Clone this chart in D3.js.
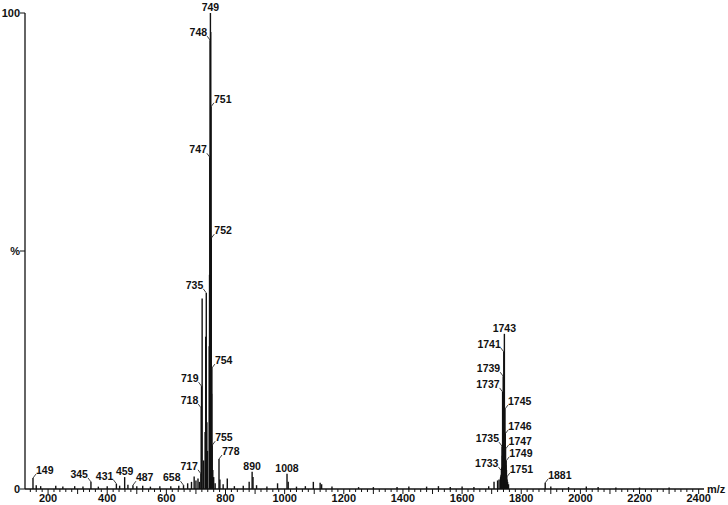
<!DOCTYPE html>
<html>
<head>
<meta charset="utf-8">
<script src="https://cdn.jsdelivr.net/npm/d3@7"></script>
<style>
	body { margin: 0; background: #fff; }
	text { font-family: "Liberation Sans", Arial, sans-serif; font-weight: bold; fill: #111; }
</style>
</head>
<body>
<div id="chart"></div>
<script>
//labelled peaks: m/z and relative intensity (%)
var labelMz = [149, 345, 431, 459, 487, 658, 717, 718, 719, 735, 747, 748, 749, 751, 752, 754, 755, 778, 890, 1008,
	1733, 1735, 1737, 1739, 1741, 1743, 1745, 1746, 1747, 1749, 1751, 1881];
var labelInt = [2.3, 1.5, 1.1, 2.5, 0.8, 0.8, 3.2, 17, 21.6, 41.2, 69.7, 94.3, 100, 80.3, 52.7, 25.4, 9.2, 6.3, 3.6, 3.2,
	3.8, 9, 20.4, 23.7, 28.8, 32.6, 16.8, 11.6, 8.4, 5.9, 2.5, 1.3];

//unlabelled peaks
var otherMz = [160, 175, 226, 250, 290, 318, 370, 400, 442, 470, 500, 520, 546, 578, 615, 642, 672, 685, 694, 700, 707, 712,
	721, 726, 731, 733, 737, 739, 745, 746, 750, 753, 757, 760, 765, 781, 792, 806, 830, 860, 880, 893, 905, 940, 976, 1012,
	1040, 1070, 1097, 1120, 1125, 1160, 1250, 1300, 1380, 1420, 1480, 1520, 1560, 1600, 1640, 1690, 1708, 1720, 1725,
	1730, 1731, 1732, 1734, 1736, 1738, 1740, 1742, 1744, 1748, 1750, 1752, 1754, 1757, 1900, 1960, 2020, 2060, 2120, 2200, 2300];
var otherInt = [0.8, 0.6, 0.7, 0.5, 0.6, 0.5, 0.5, 0.6, 0.7, 0.9, 0.6, 0.7, 0.5, 0.6, 0.6, 0.7, 1.2, 1.5, 2.6, 1.8, 2.2, 1.5,
	40, 6, 12, 32, 14, 8, 30, 45, 96, 20, 4, 2.5, 1.2, 2, 1, 2.2, 0.6, 0.7, 1.5, 2.5, 0.8, 0.5, 1.2, 1.5,
	0.5, 0.6, 1.5, 1.3, 1, 0.5, 0.4, 0.4, 0.4, 0.5, 0.5, 0.6, 0.4, 0.5, 0.4, 0.6, 1.5, 1.8, 2,
	2.4, 2.6, 3, 4.5, 7, 10, 12, 14, 12, 5, 4, 2, 1.5, 1, 0.5, 0.4, 0.5, 0.4, 0.3, 0.3, 0.3];

//where each label sits: l = left of peak, r = right, c = centred above
var labelSide = {149:'r', 345:'l', 431:'l', 459:'c', 487:'r', 658:'l', 717:'l', 718:'l', 719:'l', 735:'l',
	747:'l', 748:'l', 749:'c', 751:'r', 752:'r', 754:'r', 755:'r', 778:'r', 890:'c', 1008:'c',
	1733:'l', 1735:'l', 1737:'l', 1739:'l', 1741:'l', 1743:'c', 1745:'r', 1746:'r', 1747:'r', 1749:'r', 1751:'r', 1881:'r'};

var xTickLabels = [200, 400, 600, 800, 1000, 1200, 1400, 1600, 1800, 2000, 2200, 2400];

var width = 728, height = 505;

var svg = d3.select('#chart').append('svg')
	.attr('width', width)
	.attr('height', height);

var x = d3.scaleLinear().domain([122, 2418]).range([25, 704]);
var y = d3.scaleLinear().domain([0, 100]).range([489, 13]);

var peaks = [];
otherMz.forEach(function(m, i) { peaks.push({mz: m, v: otherInt[i]}); });
labelMz.forEach(function(m, i) { peaks.push({mz: m, v: labelInt[i]}); });

//sticks
svg.append('g').selectAll('line')
	.data(peaks)
	.enter().append('line')
	.attr('x1', function(d) { return x(d.mz); })
	.attr('x2', function(d) { return x(d.mz); })
	.attr('y1', y(0))
	.attr('y2', function(d) { return y(d.v); })
	.style('stroke', '#111')
	.style('stroke-width', 1.4);

//x axis
var xAxis = svg.append('g');
xAxis.append('line')
	.attr('x1', x.range()[0]).attr('x2', x.range()[1])
	.attr('y1', y(0)).attr('y2', y(0))
	.style('stroke', '#111').style('stroke-width', 1.3);

var minor = d3.range(140, 2420, 20);
xAxis.selectAll('.tick')
	.data(minor)
	.enter().append('line')
	.attr('class', 'tick')
	.attr('x1', function(d) { return x(d); })
	.attr('x2', function(d) { return x(d); })
	.attr('y1', y(0))
	.attr('y2', function(d) { return y(0) + (d % 100 == 0 ? 5 : 3); })
	.style('stroke', '#111').style('stroke-width', 1);

xAxis.selectAll('.tlab')
	.data(xTickLabels)
	.enter().append('text')
	.attr('class', 'tlab')
	.attr('x', function(d) { return x(d); })
	.attr('y', 502)
	.attr('text-anchor', 'middle')
	.style('font-size', '11px')
	.text(function(d) { return d; });

svg.append('text')
	.attr('x', 707).attr('y', 493)
	.style('font-size', '11px')
	.text('m/z');

//y axis
var yAxis = svg.append('g');
yAxis.append('line')
	.attr('x1', 25).attr('x2', 25)
	.attr('y1', y(100)).attr('y2', y(0))
	.style('stroke', '#111').style('stroke-width', 1.3);

[[100, '100'], [50, '%'], [0, '0']].forEach(function(t) {
	yAxis.append('line')
		.attr('x1', 20).attr('x2', 25)
		.attr('y1', y(t[0])).attr('y2', y(t[0]))
		.style('stroke', '#111').style('stroke-width', 1);
	yAxis.append('text')
		.attr('x', 20).attr('y', y(t[0]) + 4)
		.attr('text-anchor', 'end')
		.style('font-size', '11px')
		.text(t[1]);
});

//peak labels with leader lines
var labels = svg.append('g');
labelMz.forEach(function(m, i) {
	var px = x(m), py = y(labelInt[i]);
	var side = labelSide[m];
	if (side == 'c') {
		labels.append('text')
			.attr('x', px).attr('y', py - 2)
			.attr('text-anchor', 'middle')
			.style('font-size', '10.5px')
			.text(m);
		return;
	}
	var dx = side == 'l' ? -3 : 3;
	labels.append('line')
		.attr('x1', px).attr('y1', py)
		.attr('x2', px + dx).attr('y2', py - 4)
		.style('stroke', '#111').style('stroke-width', 0.8);
	labels.append('text')
		.attr('x', px + dx).attr('y', py - 4)
		.attr('text-anchor', side == 'l' ? 'end' : 'start')
		.style('font-size', '10.5px')
		.text(m);
});
</script>
</body>
</html>
